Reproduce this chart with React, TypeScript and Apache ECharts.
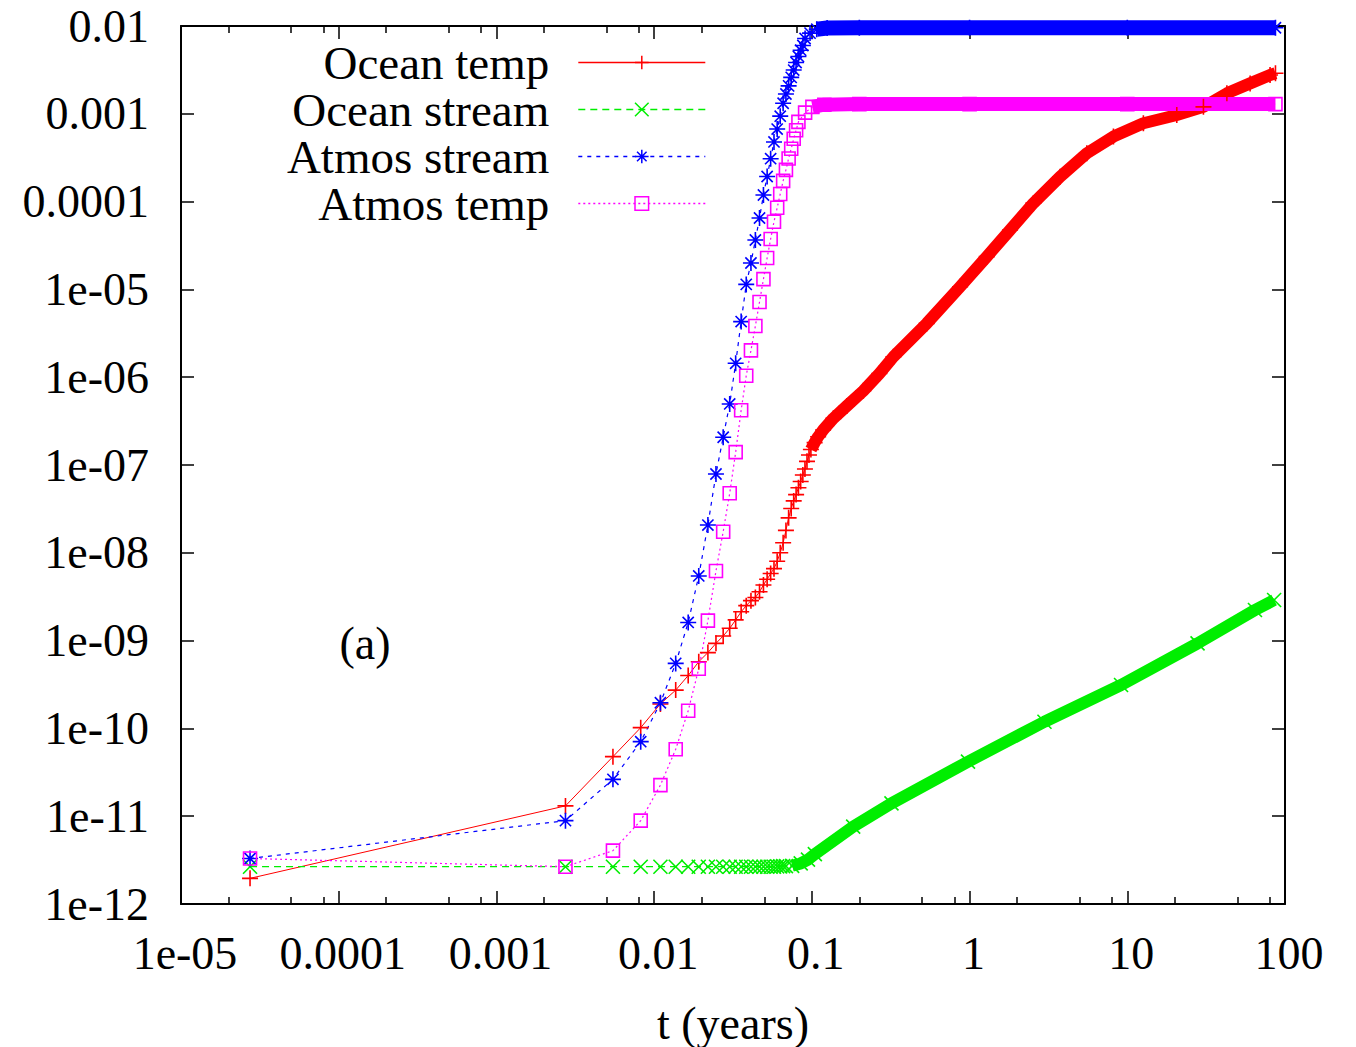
import React, { useEffect, useRef } from "react";
import * as echarts from "echarts";

const FONT = "'Liberation Serif', 'Times New Roman', 'DejaVu Serif', serif";

const xTickLabels = ["1e-05", "0.0001", "0.001", "0.01", "0.1", "1", "10", "100"];
const yTickLabels = ["1e-12", "1e-11", "1e-10", "1e-09", "1e-08", "1e-07", "1e-06", "1e-05", "0.0001", "0.001", "0.01"];
const xMinorTicks = [2e-5, 5e-5, 8e-5, 2e-4, 5e-4, 8e-4, 2e-3, 5e-3, 8e-3, 0.02, 0.05, 0.08, 0.2, 0.5, 0.8, 2, 5, 8, 20, 50, 80];
const seriesNames = ["Ocean temp", "Ocean stream", "Atmos stream", "Atmos temp"];

// [t (years), value]
const oceanTemp: [number, number][] = [
  [0.0000274, 1.96e-12], [0.00274, 1.31e-11], [0.00548, 4.77e-11], [0.00822, 1.02e-10],
  [0.01096, 1.9e-10], [0.0137, 2.73e-10], [0.01644, 4.0e-10], [0.01918, 5.75e-10],
  [0.02192, 7.3e-10], [0.02466, 9.3e-10], [0.0274, 1.13e-9], [0.03014, 1.38e-9],
  [0.03288, 1.72e-9], [0.03562, 2.13e-9], [0.03836, 2.5e-9], [0.0411, 2.85e-9],
  [0.04384, 3.1e-9], [0.04658, 3.6e-9], [0.04932, 4.3e-9], [0.05205, 5.0e-9],
  [0.05479, 5.8e-9], [0.05753, 6.6e-9], [0.06027, 8.0e-9], [0.06301, 1.0e-8],
  [0.06575, 1.3e-8], [0.06849, 1.8e-8], [0.07123, 2.5e-8], [0.07397, 3.2e-8],
  [0.07671, 3.9e-8], [0.07945, 4.6e-8], [0.08219, 5.5e-8], [0.08493, 6.5e-8],
  [0.08767, 7.7e-8], [0.09041, 9.0e-8], [0.09315, 1.1e-7], [0.09589, 1.3e-7],
  [0.09863, 1.5e-7], [0.1041, 1.8e-7], [0.1096, 2.1e-7], [0.1178, 2.5e-7],
  [0.137, 3.4e-7], [0.1665, 4.7e-7], [0.212, 7.0e-7], [0.268, 1.1e-6], [0.329, 1.71e-6],
  [0.535, 4.1e-6], [0.871, 1.07e-5], [1.285, 2.36e-5], [1.806, 4.75e-5],
  [2.54, 9.6e-5], [3.75, 1.92e-4], [5.54, 3.55e-4], [8.17, 5.5e-4],
  [12.65, 7.8e-4], [20.6, 9.7e-4], [30.4, 1.2e-3], [42.8, 1.71e-3],
  [60.1, 2.22e-3], [80.4, 2.77e-3], [87, 2.9e-3],
];

const oceanStream: [number, number][] = [
  [0.0000274, 2.66e-12], [0.00274, 2.66e-12], [0.00548, 2.66e-12], [0.00822, 2.66e-12],
  [0.01096, 2.66e-12], [0.0137, 2.66e-12], [0.01644, 2.66e-12], [0.01918, 2.66e-12],
  [0.02192, 2.66e-12], [0.02466, 2.66e-12], [0.0274, 2.66e-12], [0.03014, 2.66e-12],
  [0.03288, 2.66e-12], [0.03562, 2.66e-12], [0.03836, 2.66e-12], [0.0411, 2.66e-12],
  [0.04384, 2.66e-12], [0.04658, 2.66e-12], [0.04932, 2.66e-12], [0.05205, 2.66e-12],
  [0.05479, 2.66e-12], [0.05753, 2.66e-12], [0.06027, 2.68e-12], [0.06301, 2.68e-12],
  [0.06575, 2.7e-12], [0.06849, 2.7e-12], [0.075, 2.72e-12], [0.085, 2.9e-12],
  [0.0945, 3.2e-12], [0.1045, 3.7e-12], [0.1828, 7.6e-12], [0.3197, 1.4e-11],
  [0.977, 4.18e-11], [2.985, 1.19e-10], [9.13, 3.12e-10], [27.9, 9.3e-10],
  [64.5, 2.23e-9], [85.3, 2.9e-9],
];

const atmosStream: [number, number][] = [
  [0.0000274, 3.3e-12], [0.00274, 8.9e-12], [0.00548, 2.63e-11], [0.00822, 7.06e-11],
  [0.01096, 1.96e-10], [0.0137, 5.5e-10], [0.01644, 1.61e-9], [0.01918, 5.45e-9],
  [0.02192, 2.07e-8], [0.02466, 7.9e-8], [0.0274, 2.07e-7], [0.03014, 4.96e-7],
  [0.03288, 1.44e-6], [0.03562, 4.3e-6], [0.03836, 1.14e-5], [0.0411, 2.0e-5],
  [0.04384, 3.65e-5], [0.04658, 6.5e-5], [0.04932, 1.19e-4], [0.05205, 1.93e-4],
  [0.05479, 3.08e-4], [0.05753, 4.78e-4], [0.06027, 6.7e-4], [0.06301, 9.4e-4],
  [0.06575, 1.32e-3], [0.06849, 1.68e-3], [0.07123, 2.08e-3], [0.07397, 2.6e-3],
  [0.07671, 3.15e-3], [0.07945, 3.84e-3], [0.08219, 4.5e-3], [0.0849, 5.3e-3],
  [0.0877, 6.0e-3], [0.0906, 7.2e-3], [0.0974, 8.3e-3], [0.1074, 9.2e-3],
  [0.125, 9.5e-3], [0.2, 9.55e-3], [1, 9.55e-3], [10, 9.55e-3], [87, 9.55e-3],
];

const atmosTemp: [number, number][] = [
  [0.0000274, 3.3e-12], [0.00274, 2.66e-12], [0.00548, 4.05e-12], [0.00822, 8.9e-12],
  [0.01096, 2.26e-11], [0.0137, 5.78e-11], [0.01644, 1.59e-10], [0.01918, 4.78e-10],
  [0.02192, 1.69e-9], [0.02466, 6.2e-9], [0.0274, 1.74e-8], [0.03014, 4.76e-8],
  [0.03288, 1.4e-7], [0.03562, 4.2e-7], [0.03836, 1.04e-6], [0.0411, 2.02e-6],
  [0.04384, 3.83e-6], [0.04658, 7.2e-6], [0.04932, 1.31e-5], [0.05205, 2.28e-5],
  [0.05479, 3.75e-5], [0.05753, 5.9e-5], [0.06027, 8.5e-5], [0.06301, 1.22e-4],
  [0.06575, 1.72e-4], [0.06849, 2.3e-4], [0.07123, 3.1e-4], [0.07397, 4.0e-4],
  [0.07671, 5.2e-4], [0.07945, 6.5e-4], [0.08219, 8.1e-4], [0.0906, 1.03e-3],
  [0.1008, 1.2e-3], [0.12, 1.27e-3], [0.2, 1.29e-3], [1, 1.29e-3], [10, 1.29e-3], [87, 1.29e-3],
];

const PLUS = "path://M0,5 L10,5 M5,0 L5,10";
const CROSS = "path://M0,0 L10,10 M10,0 L0,10";
const STAR = "path://M5,0 L5,10 M0,5 L10,5 M1.5,1.5 L8.5,8.5 M8.5,1.5 L1.5,8.5";
const RED = "#ff0000";
const GREEN = "#00ee00";
const BLUE = "#0000ff";
const MAGENTA = "#ff00ff";
const seriesColors = [RED, GREEN, BLUE, MAGENTA];
const seriesDash: any[] = ["solid", [7, 5], [4, 5], [2, 3]];

function mainSeries(name: string, data: [number, number][], color: string, symbol: string, size: number, type: any, lw: number) {
  return {
    name, type: "line", data, xAxisIndex: 0, yAxisIndex: 0, clip: false,
    symbol, symbolSize: size, showSymbol: true, showAllSymbol: true,
    itemStyle: { color: "transparent", borderColor: color, borderWidth: 1.6 },
    lineStyle: { color, width: lw, type },
    emphasis: { disabled: true }, silent: true,
  };
}
function bandSeries(data: [number, number][], from: number, color: string, width: number) {
  return {
    type: "line", data: data.filter((d) => d[0] >= from), xAxisIndex: 0, yAxisIndex: 0,
    clip: false, showSymbol: false, symbol: "none",
    lineStyle: { color, width, cap: "butt", join: "round" },
    emphasis: { disabled: true }, silent: true,
  };
}

const axisText = { color: "#000", fontFamily: FONT, fontSize: 46 };
const frameLine = () => ({ show: true, onZero: false, lineStyle: { color: "#000", width: 2 } });
const majorTick = () => ({ show: true, inside: true, length: 13, lineStyle: { color: "#000", width: 1.5 } });

export default function App() {
  const ref = useRef<HTMLDivElement>(null);
  useEffect(() => {
    const chart = echarts.init(ref.current!, null, { renderer: "svg" });
    const minorVals = xMinorTicks.map((v) => Math.log10(v));
    const option: any = {
      animation: false,
      backgroundColor: "#fff",
      grid: { left: 181, top: 26, right: 71, bottom: 143, containLabel: false, outerBoundsMode: "none" },
      xAxis: [
        {
          type: "log", logBase: 10, min: 1e-5, max: 100, interval: 1, position: "bottom",
          name: "t (years)", nameLocation: "middle", nameGap: 96,
          nameTextStyle: { ...axisText },
          axisLine: frameLine(),
          axisTick: majorTick(),
          axisLabel: {
            ...axisText, margin: 26, padding: [0, 0, 0, 8],
            formatter: (v: number) => xTickLabels[Math.round(Math.log10(v)) + 5],
          },
          splitLine: { show: false },
        },
        {
          type: "log", logBase: 10, min: 1e-5, max: 100, interval: 1, position: "top",
          axisLine: frameLine(), axisTick: majorTick(),
          axisLabel: { show: false }, splitLine: { show: false },
        },
        {
          type: "value", min: -5, max: 2, position: "bottom",
          axisLine: { show: false, onZero: false },
          axisTick: { show: true, inside: true, length: 7, customValues: minorVals, lineStyle: { color: "#000", width: 1.5 } },
          axisLabel: { show: false }, splitLine: { show: false },
        },
        {
          type: "value", min: -5, max: 2, position: "top",
          axisLine: { show: false, onZero: false },
          axisTick: { show: true, inside: true, length: 7, customValues: minorVals, lineStyle: { color: "#000", width: 1.5 } },
          axisLabel: { show: false }, splitLine: { show: false },
        },
      ],
      yAxis: [
        {
          type: "log", logBase: 10, min: 1e-12, max: 0.01, interval: 1, position: "left",
          axisLine: frameLine(), axisTick: majorTick(),
          axisLabel: {
            ...axisText, margin: 32,
            formatter: (v: number) => yTickLabels[Math.round(Math.log10(v)) + 12],
          },
          splitLine: { show: false },
        },
        {
          type: "log", logBase: 10, min: 1e-12, max: 0.01, interval: 1, position: "right",
          axisLine: frameLine(), axisTick: majorTick(),
          axisLabel: { show: false }, splitLine: { show: false },
        },
      ],
      legend: {
        data: seriesNames.map((name, i) => ({
          name,
          lineStyle: { color: seriesColors[i], width: 1.4, type: seriesDash[i] },
          itemStyle: { color: "transparent", borderColor: seriesColors[i], borderWidth: 1.5 },
        })),
        orient: "vertical", align: "right",
        right: 650, top: 39, padding: 0, itemGap: 0,
        itemWidth: 127, itemHeight: 17,
        textStyle: { color: "#000", fontFamily: FONT, fontSize: 47, padding: [0, 24, 0, 0] },
        selectedMode: false,
      },
      graphic: [
        {
          type: "text", x: 365, y: 643,
          style: { text: "(a)", fontFamily: FONT, fontSize: 46, fill: "#000", align: "center", verticalAlign: "middle" },
        },
      ],
      series: [
        bandSeries(oceanTemp, 0.098, RED, 12),
        mainSeries(seriesNames[0], oceanTemp, RED, PLUS, 16, seriesDash[0], 1),
        bandSeries(oceanStream, 0.07, GREEN, 12),
        mainSeries(seriesNames[1], oceanStream, GREEN, CROSS, 14, seriesDash[1], 1.2),
        bandSeries(atmosStream, 0.1, BLUE, 15),
        mainSeries(seriesNames[2], atmosStream, BLUE, STAR, 16, seriesDash[2], 1.2),
        bandSeries(atmosTemp, 0.1, MAGENTA, 14),
        mainSeries(seriesNames[3], atmosTemp, MAGENTA, "rect", 13, seriesDash[3], 1.2),
      ],
    };
    chart.setOption(option);
    return () => chart.dispose();
  }, []);
  return (
    <div
      ref={ref}
      style={{ position: "absolute", left: 0, top: 0, width: 1356, height: 1047, background: "#fff" }}
    />
  );
}
